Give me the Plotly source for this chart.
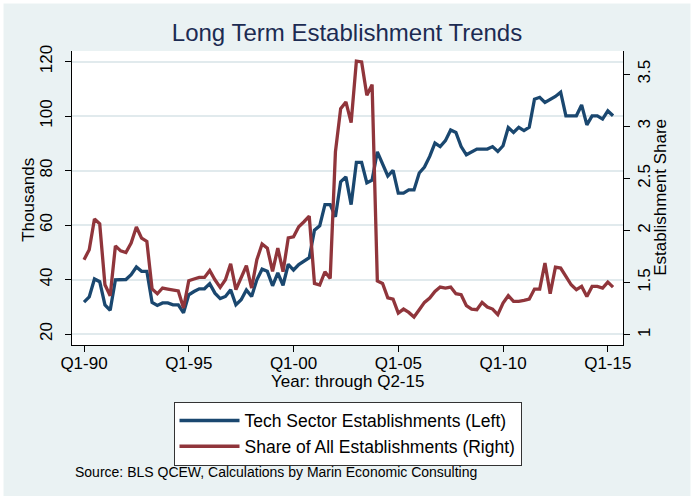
import plotly.graph_objects as go

# ---------------- data ----------------
years = list(range(1990, 2016))
quarters = [f"{y}Q{q}" for y in years for q in (1, 2, 3, 4)][:102]  # Q1-1990 .. Q2-2015

tech_establishments = [
    31.7, 33.6, 40.2, 39.2, 30.7, 28.7, 39.9, 40.0, 40.0, 41.8,
    44.6, 43.0, 43.0, 31.6, 30.5, 31.4, 31.4, 30.7, 30.7, 27.8,
    34.4, 35.6, 36.6, 36.6, 38.5, 35.0, 33.0, 33.8, 36.2, 30.7,
    32.6, 36.2, 33.8, 39.9, 43.8, 43.0, 37.7, 42.4, 37.9, 45.6,
    43.5, 45.5, 46.8, 48.0, 58.1, 59.7, 67.5, 67.5, 63.0, 75.9,
    77.7, 67.5, 83.0, 83.0, 75.5, 76.5, 86.9, 82.6, 78.0, 80.1,
    71.7, 71.7, 72.9, 72.9, 79.1, 81.3, 85.2, 90.1, 88.8, 91.0,
    94.9, 94.0, 88.8, 85.8, 87.0, 87.9, 87.9, 87.9, 88.8, 87.0,
    89.1, 95.8, 94.0, 95.9, 94.7, 95.9, 106.2, 106.9, 105.0, 106.0,
    107.2, 108.8, 100.1, 100.1, 100.1, 104.1, 96.8, 100.1, 100.1, 98.9,
    101.9, 100.1,
]

share_of_all = [
    1.72, 1.815, 2.11, 2.064, 1.479, 1.374, 1.853, 1.805, 1.789, 1.879,
    2.033, 1.927, 1.895, 1.438, 1.393, 1.448, 1.438, 1.432, 1.42, 1.256,
    1.518, 1.534, 1.55, 1.55, 1.617, 1.527, 1.454, 1.527, 1.681, 1.432,
    1.553, 1.662, 1.448, 1.719, 1.87, 1.831, 1.607, 1.831, 1.605, 1.93,
    1.94, 2.036, 2.084, 2.138, 1.492, 1.477, 1.604, 1.54, 2.755, 3.17,
    3.234, 3.036, 3.625, 3.618, 3.299, 3.4, 1.515, 1.492, 1.354, 1.342,
    1.208, 1.246, 1.214, 1.17, 1.24, 1.31, 1.352, 1.415, 1.457, 1.448,
    1.457, 1.393, 1.384, 1.278, 1.246, 1.24, 1.31, 1.266, 1.246, 1.192,
    1.304, 1.374, 1.32, 1.32, 1.329, 1.342, 1.438, 1.438, 1.688, 1.393,
    1.649, 1.64, 1.559, 1.479, 1.432, 1.463, 1.367, 1.463, 1.463, 1.448,
    1.505, 1.457,
]

x_tick_vals = ["1990Q1", "1995Q1", "2000Q1", "2005Q1", "2010Q1", "2015Q1"]
x_tick_text = ["Q1-90", "Q1-95", "Q1-00", "Q1-05", "Q1-10", "Q1-15"]
y_left_ticks = [20, 40, 60, 80, 100, 120]
y_right_ticks = [1, 1.5, 2, 2.5, 3, 3.5]
y_right_text = ["1", "1.5", "2", "2.5", "3", "3.5"]

# ---------------- style ----------------
BG = "#eaf2f3"
GRID = "#e1eaed"
BLUE = "#1a476f"
RED = "#90353b"
FONT = "Liberation Sans, Arial, Helvetica, sans-serif"

# plot area in pixels (from the reference)
PL, PR, PT, PB = 72, 623, 51, 345.3
PW, PH = PR - PL, PB - PT


def px_x(px):
    return (px - PL) / PW


def px_y(py):
    return (PB - py) / PH


fig = go.Figure()
fig.add_trace(go.Scatter(
    x=quarters, y=tech_establishments, mode="lines",
    name="Tech Sector Establishments (Left)",
    line=dict(color=BLUE, width=3.3), yaxis="y",
))
fig.add_trace(go.Scatter(
    x=quarters, y=share_of_all, mode="lines",
    name="Share of All Establishments (Right)",
    line=dict(color=RED, width=3.3), yaxis="y2",
))

fig.update_layout(
    width=694, height=500,
    autosize=False,
    margin=dict(l=PL, r=694 - PR, t=PT, b=500 - PB, pad=0, autoexpand=False),
    paper_bgcolor=BG,
    plot_bgcolor="white",
    font=dict(family=FONT, size=17, color="black"),
    title=dict(
        text="Long Term Establishment Trends",
        x=0.5, xref="container", xanchor="center",
        y=1 - 33 / 500, yref="container", yanchor="middle",
        font=dict(family=FONT, size=24, color="#1c2b52"),
    ),
    xaxis=dict(
        type="category",
        range=[-2.29, 102.9],
        tickvals=x_tick_vals, ticktext=x_tick_text,
        ticks="outside", ticklen=6, tickcolor="black", tickwidth=1,
        showline=True, linecolor="black", linewidth=1,
        showgrid=False, zeroline=False, automargin=False,
        ticklabelstandoff=-3,
        tickfont=dict(size=17),
    ),
    yaxis=dict(
        range=[15.96, 123.9],
        tickvals=y_left_ticks,
        tickangle=-90,
        ticks="outside", ticklen=6, tickcolor="black", tickwidth=1,
        showline=True, linecolor="black", linewidth=1,
        showgrid=True, gridcolor=GRID, gridwidth=1.5,
        zeroline=False, automargin=False,
        ticklabelstandoff=6,
        tickfont=dict(size=17),
    ),
    yaxis2=dict(
        overlaying="y", side="right",
        range=[0.901, 3.723],
        tickvals=y_right_ticks, ticktext=y_right_text,
        tickangle=-90,
        ticks="outside", ticklen=6, tickcolor="black", tickwidth=1,
        showline=True, linecolor="black", linewidth=1,
        showgrid=False, zeroline=False, automargin=False,
        ticklabelstandoff=0,
        tickfont=dict(size=17),
    ),
    showlegend=True,
    legend=dict(
        x=px_x(347.5), xanchor="center", xref="paper",
        y=px_y(402), yanchor="top", yref="paper",
        orientation="v",
        bgcolor="white", bordercolor="#333333", borderwidth=1,
        font=dict(size=17.5, color="black"),
        itemwidth=60,
        tracegroupgap=2,
    ),
    annotations=[
        dict(text="Year: through Q2-15", xref="paper", yref="paper",
             x=0.5, y=px_y(382), xanchor="center", yanchor="middle",
             showarrow=False, font=dict(size=17, color="black")),
        dict(text="Thousands", xref="paper", yref="paper",
             x=px_x(29), y=px_y(200), textangle=-90,
             xanchor="center", yanchor="middle",
             showarrow=False, font=dict(size=17, color="black")),
        dict(text="Establishment Share", xref="paper", yref="paper",
             x=px_x(661), y=px_y(198), textangle=-90,
             xanchor="center", yanchor="middle",
             showarrow=False, font=dict(size=17, color="black")),
        dict(text="Source: BLS QCEW, Calculations by Marin Economic Consulting",
             xref="paper", yref="paper",
             x=px_x(73), y=px_y(472),
             xanchor="left", yanchor="middle",
             showarrow=False, font=dict(size=14, color="black")),
    ],
    shapes=[
        dict(type="rect", xref="paper", yref="paper", layer="above",
             x0=px_x(0), x1=px_x(694), y0=px_y(500), y1=px_y(0),
             line=dict(color="white", width=7), fillcolor="rgba(0,0,0,0)"),
    ],
)

fig.write_html("out.html", config={"displayModeBar": False},
               post_script="document.body.style.margin='0';")
